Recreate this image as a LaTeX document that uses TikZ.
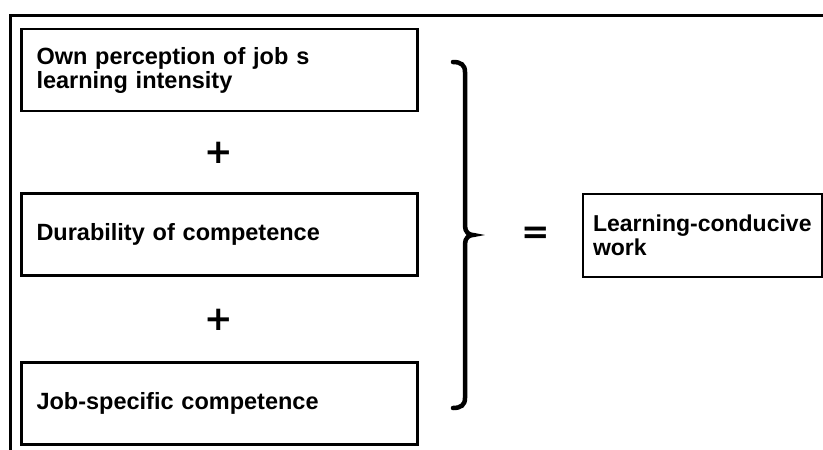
\documentclass[tikz,border=0pt]{standalone}
\usepackage{fontspec}
\setmainfont{Liberation Sans}
\newfontfamily\opfont{DejaVu Sans}
\begin{document}
\begin{tikzpicture}[x=1pt,y=-1pt,
  box/.style={draw, line width=2.5pt, rectangle, minimum width=396pt, minimum height=82pt,
    text width=366pt, align=left, inner xsep=15pt, inner ysep=0pt,
    font=\fontsize{23.5}{24}\selectfont\bfseries},
  rbox/.style={draw, line width=2.5pt, rectangle, minimum width=239pt, minimum height=83pt,
    text width=219pt, align=left, inner xsep=10pt, inner ysep=0pt,
    font=\fontsize{23}{24}\selectfont\bfseries},
  op/.style={inner sep=0pt, font=\opfont\fontsize{34}{34}\selectfont\bfseries},
  frame/.style={line width=3pt},
  bracestyle/.style={line width=4.5pt, line cap=round}]
\useasboundingbox (0,0) rectangle (823,450);
% outer frame
\coordinate (fa) at (10,450);
\coordinate (fb) at (10,15);
\coordinate (fc) at (823,15);
\draw[frame] (fa) -- (fb) -- (fc);
% boxes
\node[box] (b1) at (219.5,70) {Own perception of job s\\learning intensity};
\node[box] (b2) at (219.5,234.5) {Durability of competence};
\node[box] (b3) at (219.5,403.5) {Job-specific competence};
\node[rbox] (r) at (702.5,235.5) {Learning-conducive\\work};
% operators
\node[op] (p1) at (219,153) {+};
\node[op] (p2) at (219,320) {+};
\node[op] (eq) at (536,235) {=};
% brace
\draw[bracestyle] (453,62) .. controls (461,62) and (465,65) .. (465,72)
  -- (465,226) .. controls (465,232) and (469,235) .. (473,235)
  .. controls (469,235) and (465,238) .. (465,244)
  -- (465,398) .. controls (465,405) and (461,408) .. (453,408);
\end{tikzpicture}
\end{document}
